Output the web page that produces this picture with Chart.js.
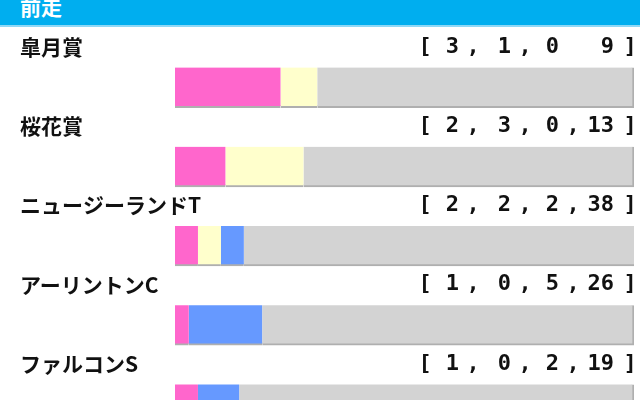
<!DOCTYPE html>
<html>
<head>
<meta charset="utf-8">
<script src="https://cdn.jsdelivr.net/npm/chart.js@4.4.0/dist/chart.umd.min.js"></script>
<style>
  html, body { margin: 0; padding: 0; background: #fff; overflow: hidden; width: 640px; height: 400px; }
  #head {
    height: 25px; background: #00aeef; border-bottom: 2px solid #8fd8f6;
    color: #fff; font: bold 21px "Noto Sans CJK JP", sans-serif;
    line-height: 0; position: relative;
  }
  #head span { position: absolute; left: 20px; top: 6px; }
  #wrap { position: relative; width: 640px; height: 417px; }
</style>
</head>
<body>
<div id="head"><span>前走</span></div>
<div id="wrap"><canvas id="rankChart"></canvas></div>
<script>
// previous race and its record [1st, 2nd, 3rd, out of top 3]
const races = ['皐月賞', '桜花賞', 'ニュージーランドT', 'アーリントンC', 'ファルコンS'];
const firsts = [3, 2, 2, 1, 1];
const seconds = [1, 3, 2, 0, 0];
const thirds = [0, 0, 2, 5, 2];
const others = [9, 13, 38, 26, 19];
// the first row shows no comma before its last number
const lastComma = [false, true, true, true, true];

const totals = races.map((r, i) => firsts[i] + seconds[i] + thirds[i] + others[i]);
// bars use whole-number percentages of each row's runs
const share = arr => arr.map((v, i) => Math.round(v / totals[i] * 100));

const edge = 'rgba(110,110,110,0.55)';

// Draw race names and the bracketed record above each bar
const recordText = {
    id: 'recordText',
    afterDraw(chart) {
        const ctx = chart.ctx;
        const y = chart.scales.y;
        ctx.save();
        for (let i = 0; i < races.length; i++) {
            const cy = y.getPixelForValue(i) - 40.5;
            ctx.fillStyle = '#111';
            ctx.textBaseline = 'middle';
            ctx.textAlign = 'left';
            ctx.font = 'bold 21px "Noto Sans CJK JP", sans-serif';
            ctx.fillText(races[i], 20, cy);

            ctx.font = 'bold 22px "DejaVu Sans Mono", monospace';
            ctx.textAlign = 'center';
            ctx.fillText('[', 425, cy);
            ctx.fillText(']', 630, cy);
            const nums = [firsts[i], seconds[i], thirds[i], others[i]];
            const slotEnds = [459, 511, 559, 614];
            const commaAt = [473, 525, 573];
            ctx.textAlign = 'right';
            nums.forEach((n, k) => ctx.fillText(String(n), slotEnds[k], cy));
            ctx.textAlign = 'center';
            commaAt.forEach((cx, k) => {
                if (k === 2 && !lastComma[i]) return;
                ctx.fillText(',', cx, cy);
            });
        }
        ctx.restore();
    }
};

new Chart(document.getElementById('rankChart').getContext('2d'), {
    type: 'bar',
    data: {
        labels: races,
        datasets: [
            { label: '1着', data: share(firsts), backgroundColor: '#ff66cc', borderColor: edge, borderWidth: { bottom: 2 } },
            { label: '2着', data: share(seconds), backgroundColor: '#ffffcc', borderColor: edge, borderWidth: { bottom: 2 } },
            { label: '3着', data: share(thirds), backgroundColor: '#6699ff', borderColor: edge, borderWidth: { bottom: 2 } },
            { label: '着外', data: share(others), backgroundColor: '#d3d3d3', borderColor: edge, borderWidth: { bottom: 2, right: 2 } }
        ]
    },
    options: {
        indexAxis: 'y',
        responsive: true,
        maintainAspectRatio: false,
        animation: false,
        datasets: { bar: { barThickness: 40, borderSkipped: false } },
        layout: { padding: { left: 175, right: 6, top: 21, bottom: 0 } },
        scales: {
            x: { stacked: true, min: 0, max: 100, display: false },
            y: { stacked: true, display: false }
        },
        plugins: {
            legend: { display: false },
            tooltip: { enabled: false }
        }
    },
    plugins: [recordText]
});
</script>
</body>
</html>
